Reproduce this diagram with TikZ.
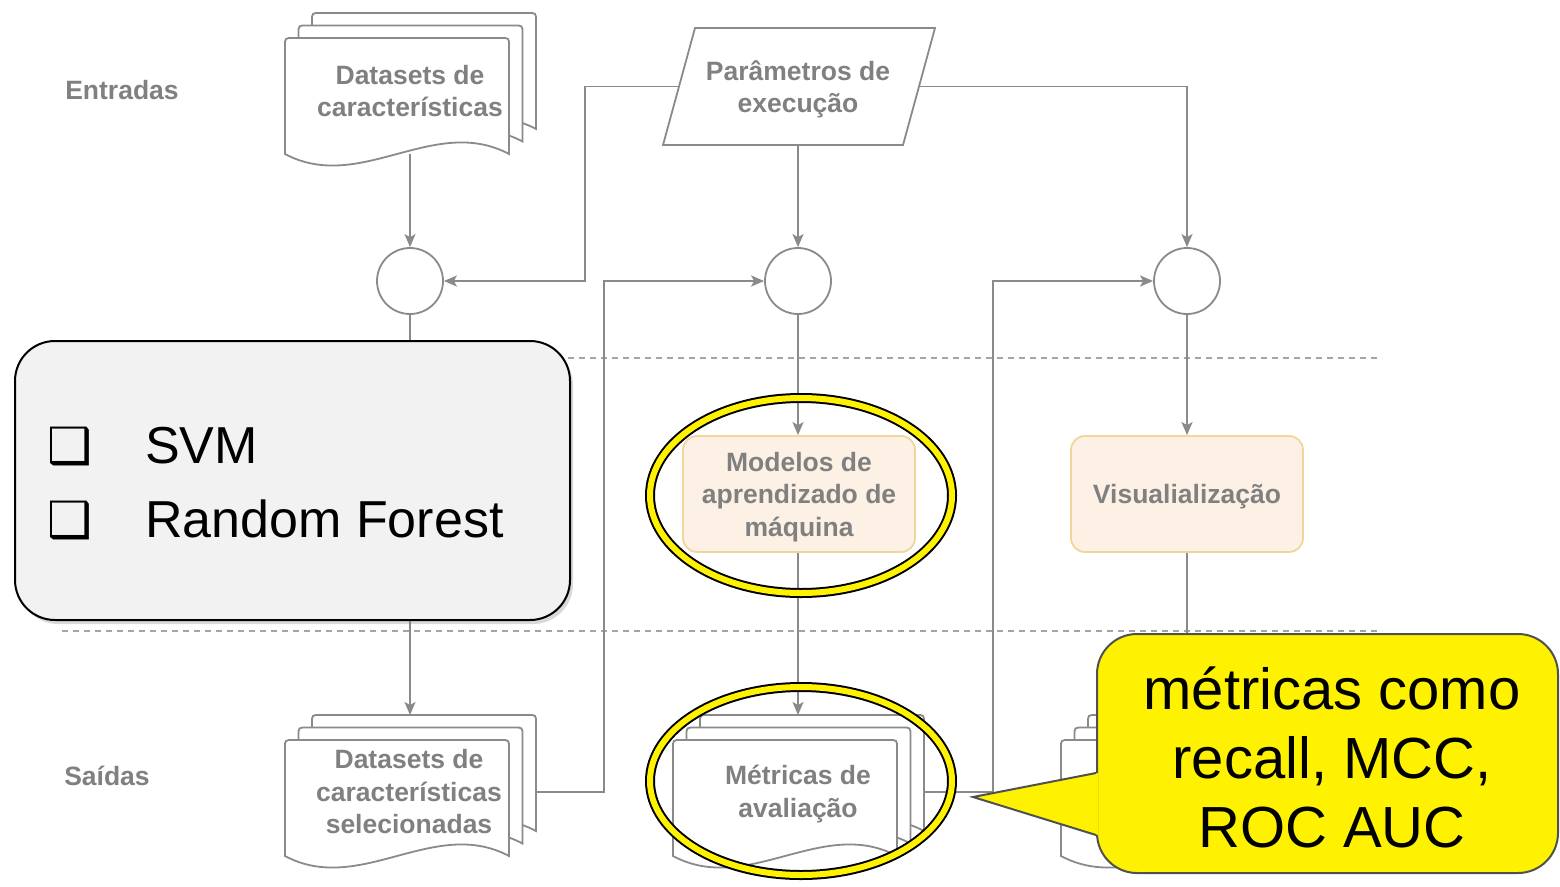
\documentclass[tikz,border=0pt]{standalone}
\usepackage{fontspec}
\setmainfont{Liberation Sans}
\newfontfamily\symbolfont{DejaVu Sans}
\usetikzlibrary{arrows.meta,shapes.geometric,shadows}

\definecolor{linegray}{RGB}{138,138,138}
\definecolor{labelgray}{RGB}{128,128,128}
\definecolor{dashgray}{RGB}{165,165,165}
\definecolor{procfill}{RGB}{253,241,229}
\definecolor{procline}{RGB}{240,214,156}
\definecolor{panelfill}{RGB}{242,242,242}
\definecolor{noteline}{RGB}{80,80,80}

\pgfdeclarelayer{back}
\pgfsetlayers{back,main}

% one document sheet, (#1,#2) = top-left corner, 224 x 116 with a wavy bottom
\newcommand{\onedoc}[2]{%
  \path[docline] (#1,#2+116) -- (#1,#2+8) .. controls (#1,#2) .. (#1+8,#2)
    -- (#1+216,#2) .. controls (#1+224,#2) .. (#1+224,#2+8) -- (#1+224,#2+116)
    .. controls (#1+149,#2+76) and (#1+75,#2+156) .. (#1,#2+116) -- cycle;}
% stack of three sheets, front sheet at (#1,#2)
\newcommand{\multidoc}[2]{%
  \onedoc{#1+27}{#2-25}\onedoc{#1+13.5}{#2-12.5}\onedoc{#1}{#2}}

\tikzset{
  flowtext/.style={text=labelgray, font=\fontsize{26.5}{32.5}\selectfont\bfseries, align=center},
  docline/.style={draw=linegray, line width=1.8pt, fill=white},
  stackarea/.style={rectangle, draw=none, minimum width=252pt, minimum height=141pt, inner sep=0pt, outer sep=0pt},
  junction/.style={circle, draw=linegray, line width=1.8pt, fill=white, minimum size=66pt, inner sep=0pt},
  procbox/.style={rectangle, rounded corners=14pt, draw=procline, fill=procfill, line width=1.8pt,
    minimum width=232pt, minimum height=116pt},
  inputarea/.style={rectangle, draw=none, minimum width=240pt, minimum height=117pt, inner sep=0pt, outer sep=0pt},
  inputline/.style={draw=linegray, line width=1.8pt, fill=white, line join=miter},
  conn/.style={draw=linegray, line width=1.8pt, -{Stealth[length=13pt,width=11pt,inset=3pt]}},
  divider/.style={draw=dashgray, line width=1.5pt, dash pattern=on 6pt off 5pt},
  ring/.style={ellipse, draw=black, double=yellow, double distance=6pt, line width=2pt,
    minimum width=302pt, minimum height=195pt, inner sep=0pt},
  panel/.style={rectangle, rounded corners=40pt, fill=panelfill, draw=black, line width=2pt,
    minimum width=555pt, minimum height=279pt,
    drop shadow={shadow xshift=3pt, shadow yshift=-4pt, opacity=0.3}},
  listtext/.style={font=\fontsize{52}{74}\selectfont, anchor=base west, inner sep=0pt},
  listmark/.style={font=\symbolfont\fontsize{50}{50}\selectfont, anchor=base west, inner sep=0pt},
  notebox/.style={rectangle, rounded corners=40pt, fill=yellow, draw=noteline, line width=2pt,
    minimum width=461pt, minimum height=239pt},
  notetext/.style={font=\fontsize{58}{69}\selectfont, align=center}
}

\begin{document}
\begin{tikzpicture}[x=1pt,y=-1pt]
\useasboundingbox (0,0) rectangle (1560,886);

% row labels
\node[flowtext] (inlabel) at (122,90) {Entradas};
\node[flowtext] (outlabel) at (107,776) {Saídas};

% input feature datasets
\multidoc{285}{38}
\node[stackarea] (dsin) at (411,83.5) {};
\node[flowtext] (dsin-text) at (410,91) {Datasets de\\características};

% execution parameters (parallelogram slanted 16 units each side of its mid line)
\node[inputarea] (params) at (799,86.5) {};
\path[inputline] ([xshift=-16pt]params.south west) -- ([xshift=16pt]params.north west)
  -- ([xshift=16pt]params.north east) -- ([xshift=-16pt]params.south east) -- cycle;
\node[flowtext] (params-text) at (798,89.5) {Parâmetros de\\execução};

% junctions
\node[junction] (cA) at (410,281) {};
\node[junction] (cB) at (798,281) {};
\node[junction] (cC) at (1187,281) {};

% processes
\node[procbox] (models) at (799,494) {};
\node[flowtext] (models-text) at (799,497) {Modelos de\\aprendizado de\\máquina};
\node[procbox] (viz) at (1187,494) {};
\node[flowtext] (viz-text) at (1187,497) {Visualialização};

% outputs
\multidoc{285}{740}
\node[stackarea] (dsout) at (411,785.5) {};
\node[flowtext] (dsout-text) at (409,792) {Datasets de\\características\\selecionadas};

\multidoc{673}{740}
\node[stackarea] (metrics) at (799,785.5) {};
\node[flowtext] (metrics-text) at (798,794) {Métricas de\\avaliação};

\multidoc{1061}{740}
\node[stackarea] (vizout) at (1187,785.5) {};

% separators and connectors
\begin{pgfonlayer}{back}
  \draw[divider] (62,358) -- (1382,358);
  \draw[divider] (62,631) -- (1382,631);
  \draw[conn] (cA |- dsin.south) -- (cA.north);
  \draw[conn] (cB |- params.south) -- (cB.north);
  \draw[conn] (params.west) -- (585,0 |- params.west) |- (cA.east);
  \draw[conn] (params.east) -| (cC.north);
  \draw[conn] (cA.south) -- (cA |- dsout.north);
  \draw[conn] (cB.south) -- (cB |- models.north);
  \draw[conn] (cB |- models.south) -- (cB |- metrics.north);
  \draw[conn] (cC.south) -- (viz.north);
  \draw[conn] (viz.south) -- (cC |- vizout.north);
  \draw[conn] (dsout.east |- dsout-text) -- ++(67,0) |- (cB.west);
  \draw[conn] (metrics.east |- dsout-text) -- ++(68,0) |- (cC.west);
\end{pgfonlayer}

% highlight rings
\node[ring] (ring1) at (801,495.5) {};
\node[ring, minimum height=188pt] (ring2) at (801,781) {};

% algorithm list
\node[panel] (algos) at (292.5,480.5) {};
\node[listmark] (mark1) at (47,463) {❑};
\node[listtext] (svm) at (145,463) {SVM};
\node[listmark] (mark2) at (47,537) {❑};
\node[listtext] (rf) at (145,537) {Random Forest};

% note on metrics
\node[notebox] (note) at (1327.5,753.5) {};
\coordinate (tip) at (973,797);
\fill[yellow] ([xshift=2pt]note.west |- 0,773) -- (tip) -- ([xshift=2pt]note.west |- 0,835) -- cycle;
\draw[noteline, line width=2pt, line join=miter] (note.west |- 0,773) -- (tip) -- (note.west |- 0,835);
\node[notetext] (notetext) at (1332,757) {métricas como\\recall, MCC,\\ROC AUC};
\end{tikzpicture}
\end{document}
